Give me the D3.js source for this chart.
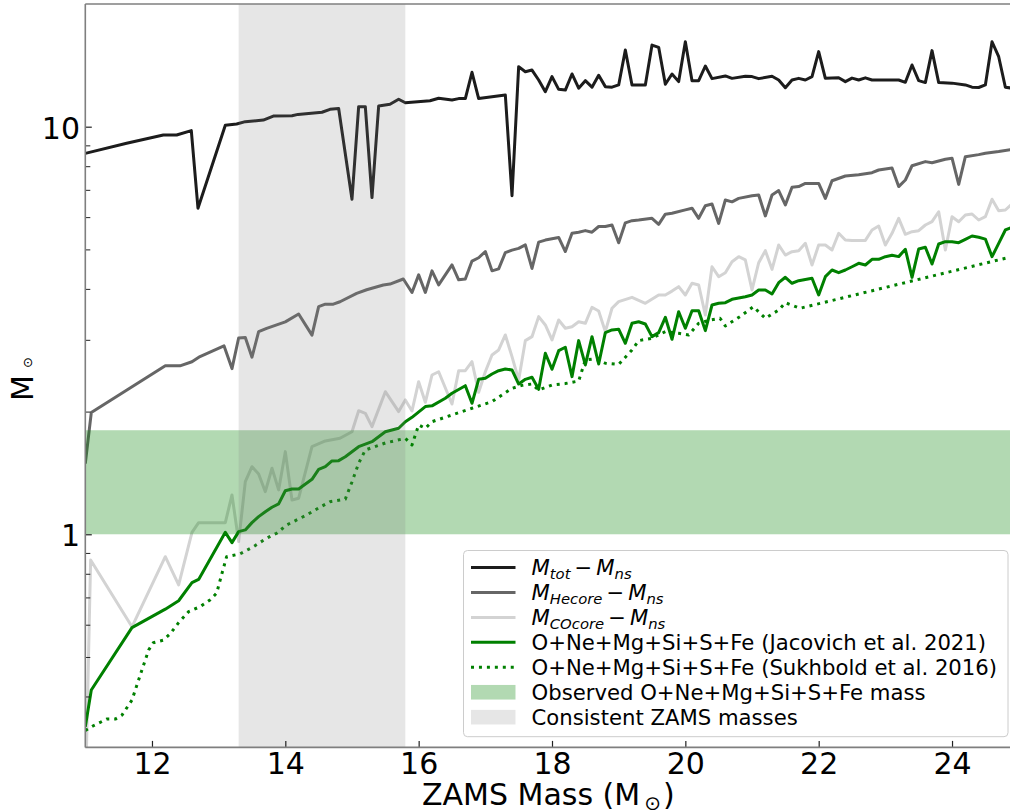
<!DOCTYPE html>
<html>
<head>
<meta charset="utf-8">
<script src="https://cdn.jsdelivr.net/npm/d3@7"></script>
<style>
  html, body { margin: 0; padding: 0; background: #fff; }
  svg { display: block; font-family: "DejaVu Sans", sans-serif; }
</style>
</head>
<body>
<svg id="chart" width="1010" height="810"></svg>
<script>
// ---------------- DATA ----------------
const xTicks = [12, 14, 16, 18, 20, 22, 24];
const yTicksMajor = [1, 10];
const yTicksMinor = [0.4, 0.5, 0.6, 0.7, 0.8, 0.9, 2, 3, 4, 5, 6, 7, 8, 9];
const xDomain = [11, 25];
const yDomain = [0.3, 20];
const observedRange = [1.0, 1.8];     // observed O+Ne+Mg+Si+S+Fe mass band
const zamsRange = [13.3, 15.8];       // consistent ZAMS masses band

// [ZAMS mass, value]
const mTot = [[11.0,8.60],[11.62,9.11],[12.17,9.54],[12.37,9.54],[12.59,9.78],[12.69,6.31],[13.1,10.08],[13.27,10.15],[13.4,10.29],[13.67,10.38],[13.82,10.62],[14.1,10.64],[14.19,10.72],[14.55,10.85],[14.67,11.03],[14.8,11.08],[15.0,6.64],[15.1,11.20],[15.2,11.20],[15.3,6.70],[15.4,11.24],[15.57,11.35],[15.7,11.68],[15.8,11.45],[16.17,11.58],[16.3,11.74],[16.5,11.63],[16.6,11.72],[16.7,11.72],[16.8,13.60],[16.9,11.72],[17.3,11.96],[17.4,6.77],[17.5,14.04],[17.6,13.64],[17.7,13.77],[17.8,13.02],[17.9,12.19],[18.0,13.27],[18.1,12.35],[18.2,12.30],[18.3,13.47],[18.4,12.43],[18.5,12.97],[18.6,12.50],[18.7,13.37],[18.8,12.54],[18.9,12.50],[19.0,12.66],[19.1,15.43],[19.2,12.66],[19.4,12.66],[19.5,15.86],[19.6,15.66],[19.7,12.71],[19.8,13.47],[19.9,12.90],[20.0,16.16],[20.1,12.97],[20.2,12.97],[20.3,14.09],[20.4,13.12],[20.6,13.32],[20.7,13.14],[20.9,13.30],[21.0,13.27],[21.1,13.12],[21.3,13.30],[21.4,13.02],[21.5,12.46],[21.6,13.02],[21.7,13.14],[21.8,13.02],[21.9,13.27],[22.0,15.28],[22.1,13.14],[22.3,13.18],[22.4,12.90],[22.5,13.16],[22.6,13.02],[22.7,13.18],[22.8,13.02],[23.2,13.02],[23.3,12.85],[23.4,14.17],[23.5,12.97],[23.6,12.83],[23.7,15.37],[23.8,12.83],[24.0,12.79],[24.2,12.66],[24.3,12.50],[24.4,12.48],[24.5,12.66],[24.6,16.16],[24.7,14.85],[24.8,12.50],[24.9,12.43]];

const mHecore = [[11.0,1.49],[11.09,1.99],[12.2,2.59],[12.42,2.59],[12.6,2.65],[12.72,2.73],[13.08,2.90],[13.2,2.55],[13.3,3.03],[13.4,3.04],[13.5,2.72],[13.6,3.14],[13.72,3.20],[14.0,3.32],[14.2,3.47],[14.4,3.08],[14.5,3.62],[14.6,3.67],[14.72,3.67],[14.82,3.72],[15.07,3.90],[15.22,3.98],[15.47,4.09],[15.57,4.11],[15.77,4.23],[15.9,3.92],[16.0,4.33],[16.1,3.92],[16.2,4.43],[16.3,4.09],[16.5,4.58],[16.6,4.21],[16.7,4.23],[16.8,4.68],[16.9,4.77],[17.0,4.94],[17.1,4.43],[17.2,4.48],[17.3,4.91],[17.4,4.98],[17.5,5.03],[17.6,5.13],[17.7,4.49],[17.8,5.21],[17.9,5.27],[18.1,5.35],[18.2,4.94],[18.3,5.48],[18.4,5.51],[18.5,5.56],[18.6,5.51],[18.7,5.69],[18.8,5.69],[18.9,5.74],[19.0,5.19],[19.1,5.81],[19.2,5.88],[19.3,5.90],[19.5,5.96],[19.6,5.76],[19.7,6.10],[19.8,6.13],[20.0,6.25],[20.1,6.31],[20.2,5.96],[20.3,6.40],[20.4,6.46],[20.5,5.79],[20.6,6.61],[20.7,6.54],[20.8,6.67],[21.0,6.77],[21.1,6.80],[21.2,6.04],[21.3,6.80],[21.4,6.97],[21.5,6.43],[21.6,7.10],[21.7,7.13],[21.8,7.26],[22.0,7.26],[22.1,6.67],[22.2,7.37],[22.4,7.57],[22.6,7.62],[22.8,7.71],[22.9,7.83],[23.1,7.92],[23.2,7.13],[23.3,7.40],[23.4,8.02],[23.6,8.21],[23.7,8.16],[23.9,8.32],[24.0,8.37],[24.1,7.22],[24.2,8.44],[24.4,8.54],[24.5,8.61],[24.7,8.69],[24.9,8.80]];

const mCOcore = [[11.0,0.22],[11.08,0.865],[11.7,0.593],[12.2,0.881],[12.4,0.751],[12.6,1.011],[12.7,1.068],[13.1,1.068],[13.2,1.249],[13.3,0.96],[13.4,1.346],[13.5,1.465],[13.6,1.406],[13.7,1.272],[13.8,1.452],[13.9,1.285],[14.0,1.595],[14.1,1.214],[14.2,1.226],[14.4,1.640],[14.6,1.694],[14.82,1.720],[15.0,1.785],[15.1,2.010],[15.2,1.981],[15.3,1.837],[15.5,2.238],[15.7,2.000],[15.8,2.136],[15.9,2.007],[16.0,2.368],[16.1,2.108],[16.2,2.459],[16.3,2.505],[16.5,2.087],[16.6,2.520],[16.7,2.520],[16.8,2.651],[16.9,2.230],[17.0,2.505],[17.1,2.754],[17.2,2.833],[17.3,3.083],[17.4,2.728],[17.5,2.391],[17.6,2.986],[17.7,3.054],[17.8,3.420],[17.9,3.263],[18.0,2.998],[18.1,3.356],[18.2,3.202],[18.3,3.230],[18.4,3.323],[18.5,3.293],[18.6,3.605],[18.7,3.530],[18.8,3.142],[18.9,3.585],[19.0,3.721],[19.2,3.814],[19.4,3.687],[19.6,3.865],[19.7,3.865],[19.8,3.95],[19.9,4.051],[20.0,3.865],[20.1,4.129],[20.2,4.090],[20.3,3.452],[20.4,4.533],[20.5,4.286],[20.6,4.384],[20.7,4.664],[20.8,4.798],[20.9,4.710],[21.0,3.976],[21.1,4.637],[21.2,4.964],[21.3,4.467],[21.4,5.126],[21.5,4.843],[21.6,4.935],[21.7,4.964],[21.8,5.175],[21.9,4.578],[22.0,5.126],[22.1,5.126],[22.2,4.983],[22.3,5.476],[22.4,5.272],[22.5,5.26],[22.7,5.26],[22.8,5.580],[22.9,5.707],[23.0,5.126],[23.1,5.476],[23.2,5.960],[23.3,5.445],[23.4,5.525],[23.5,5.557],[23.6,5.739],[23.7,5.847],[23.8,6.186],[23.9,4.983],[24.0,6.014],[24.1,5.847],[24.2,6.073],[24.3,6.107],[24.4,5.903],[24.5,6.014],[24.6,6.637],[24.7,6.222],[24.8,6.246],[24.9,6.462]];

const oxyJacovich = [[11.0,0.337],[11.09,0.415],[11.7,0.590],[12.2,0.655],[12.4,0.687],[12.6,0.761],[12.7,0.775],[13.1,1.011],[13.2,0.954],[13.3,1.015],[13.4,1.025],[13.5,1.068],[13.6,1.105],[13.7,1.136],[13.8,1.165],[13.9,1.187],[14.0,1.279],[14.1,1.292],[14.2,1.292],[14.4,1.364],[14.5,1.443],[14.6,1.465],[14.7,1.513],[14.8,1.516],[14.9,1.550],[15.1,1.640],[15.3,1.687],[15.5,1.785],[15.7,1.820],[15.8,1.889],[15.9,1.936],[16.1,2.057],[16.2,2.066],[16.4,2.157],[16.5,2.218],[16.7,2.315],[16.8,2.096],[16.9,2.400],[17.0,2.414],[17.1,2.473],[17.2,2.520],[17.3,2.544],[17.4,2.53],[17.5,2.337],[17.6,2.40],[17.7,2.428],[17.8,2.268],[17.9,2.780],[18.0,2.540],[18.1,2.821],[18.2,2.876],[18.3,2.437],[18.4,2.986],[18.5,2.603],[18.6,3.054],[18.7,2.617],[18.8,3.124],[18.9,3.172],[19.0,3.185],[19.1,2.942],[19.2,3.293],[19.3,3.323],[19.4,3.28],[19.5,3.054],[19.6,3.124],[19.7,3.407],[19.8,3.009],[19.9,3.516],[20.0,3.202],[20.1,3.536],[20.2,3.536],[20.3,3.160],[20.4,3.652],[20.5,3.687],[20.6,3.70],[20.7,3.771],[20.9,3.827],[21.0,3.865],[21.1,3.976],[21.2,3.976],[21.3,3.886],[21.4,4.143],[21.5,4.271],[21.6,4.129],[21.7,4.190],[21.9,4.247],[22.0,3.865],[22.1,4.286],[22.2,4.450],[22.3,4.384],[22.4,4.45],[22.5,4.533],[22.6,4.622],[22.7,4.578],[22.8,4.728],[22.9,4.728],[23.0,4.798],[23.1,4.836],[23.2,4.80],[23.3,5.003],[23.4,4.271],[23.5,5.01],[23.6,5.060],[23.7,4.603],[23.8,5.155],[23.9,5.223],[24.0,5.223],[24.1,5.193],[24.2,5.293],[24.3,5.393],[24.4,5.354],[24.5,5.30],[24.6,4.798],[24.7,5.175],[24.8,5.580],[24.9,5.665]];

const oxySukhbold = [[11.0,0.330],[11.12,0.339],[11.32,0.352],[11.45,0.352],[11.55,0.360],[11.7,0.392],[11.85,0.465],[11.95,0.520],[12.02,0.542],[12.17,0.550],[12.27,0.569],[12.4,0.607],[12.55,0.646],[12.72,0.664],[12.87,0.690],[12.97,0.717],[13.05,0.802],[13.12,0.881],[13.32,0.895],[13.52,0.932],[13.72,0.978],[13.87,1.006],[14.02,1.054],[14.32,1.115],[14.52,1.165],[14.67,1.202],[14.9,1.22],[15.0,1.344],[15.1,1.493],[15.2,1.610],[15.5,1.675],[15.8,1.720],[15.9,1.656],[16.0,1.854],[16.1,1.820],[16.2,1.889],[16.5,1.962],[16.8,2.038],[17.1,2.116],[17.4,2.281],[17.55,2.32],[17.7,2.337],[17.8,2.259],[18.0,2.324],[18.2,2.343],[18.4,2.377],[18.5,2.677],[18.6,2.69],[18.7,2.677],[18.8,2.628],[19.0,2.61],[19.2,2.833],[19.3,2.986],[19.5,3.026],[19.7,3.142],[19.9,3.113],[20.05,3.083],[20.2,3.293],[20.37,3.356],[20.52,3.388],[20.6,3.245],[20.82,3.420],[21.02,3.617],[21.2,3.388],[21.4,3.550],[21.5,3.700],[21.72,3.585],[24.9,4.80]];

// ---------------- LAYOUT ----------------
const svg = d3.select("#chart");
const plot = { left: 85.3, right: 1018.7, top: 4, bottom: 747.4 };
const x = d3.scaleLinear().domain(xDomain).range([plot.left, plot.right]);
const y = d3.scaleLog().domain(yDomain).range([plot.bottom, plot.top]);

svg.append("rect").attr("width", 1010).attr("height", 810).attr("fill", "#fff");

svg.append("defs").append("clipPath").attr("id", "clip")
  .append("rect")
  .attr("x", plot.left).attr("y", plot.top)
  .attr("width", plot.right - plot.left).attr("height", plot.bottom - plot.top);

const gPlot = svg.append("g").attr("clip-path", "url(#clip)");

const line = d3.line().x(d => x(d[0])).y(d => y(d[1]));

const series = [
  { data: mTot, color: "#1c1c1c", dash: null },
  { data: mHecore, color: "#666666", dash: null },
  { data: mCOcore, color: "#d3d3d3", dash: null },
  { data: oxyJacovich, color: "#008000", dash: null },
  { data: oxySukhbold, color: "#008000", dash: "3,4.95" }
];

series.forEach(s => {
  gPlot.append("path")
    .datum(s.data)
    .attr("d", line)
    .attr("fill", "none")
    .attr("stroke", s.color)
    .attr("stroke-width", 3)
    .attr("stroke-linejoin", "round")
    .attr("stroke-dasharray", s.dash);
});

// bands drawn on top with transparency
gPlot.append("rect")
  .attr("x", x(xDomain[0])).attr("width", x(xDomain[1]) - x(xDomain[0]))
  .attr("y", y(observedRange[1])).attr("height", y(observedRange[0]) - y(observedRange[1]))
  .attr("fill", "#008000").attr("fill-opacity", 0.3);

gPlot.append("rect")
  .attr("x", x(zamsRange[0])).attr("width", x(zamsRange[1]) - x(zamsRange[0]))
  .attr("y", plot.top).attr("height", plot.bottom - plot.top)
  .attr("fill", "#808080").attr("fill-opacity", 0.2);

// ---------------- AXES ----------------
const tickColor = "#222";
const xAxis = d3.axisBottom(x).tickValues(xTicks).tickFormat(d3.format("d"))
  .tickSizeInner(-6.5).tickSizeOuter(0).tickPadding(5.3);
const gx = svg.append("g").attr("transform", `translate(0,${plot.bottom})`).call(xAxis);
gx.select(".domain").remove();
gx.selectAll(".tick line").attr("stroke", tickColor).attr("stroke-width", 1.2);
gx.selectAll(".tick text").attr("font-size", 30).attr("fill", "#000")
  .attr("font-family", "DejaVu Sans");

const yAxis = d3.axisLeft(y).tickValues(yTicksMajor).tickFormat(d3.format("d"))
  .tickSizeInner(-6.5).tickSizeOuter(0).tickPadding(5.3);
const gy = svg.append("g").attr("transform", `translate(${plot.left},0)`).call(yAxis);
gy.select(".domain").remove();
gy.selectAll(".tick line").attr("stroke", tickColor).attr("stroke-width", 1.2);
gy.selectAll(".tick text").attr("font-size", 30).attr("fill", "#000")
  .attr("dy", "0.39em").attr("font-family", "DejaVu Sans");

const yAxisMinor = d3.axisLeft(y).tickValues(yTicksMinor).tickFormat("")
  .tickSizeInner(-5).tickSizeOuter(0);
const gym = svg.append("g").attr("transform", `translate(${plot.left},0)`).call(yAxisMinor);
gym.select(".domain").remove();
gym.selectAll(".tick line").attr("stroke", tickColor).attr("stroke-width", 1);

// spines
const spineColor = "#7f7f7f";
svg.append("line").attr("x1", plot.left).attr("x2", plot.left)
  .attr("y1", plot.top).attr("y2", plot.bottom)
  .attr("stroke", spineColor).attr("stroke-width", 1.6);
svg.append("line").attr("x1", plot.left).attr("x2", plot.right)
  .attr("y1", plot.bottom).attr("y2", plot.bottom)
  .attr("stroke", spineColor).attr("stroke-width", 1.6);
svg.append("line").attr("x1", plot.left).attr("x2", plot.right)
  .attr("y1", plot.top).attr("y2", plot.top)
  .attr("stroke", spineColor).attr("stroke-width", 1.6);
svg.append("line").attr("x1", plot.right).attr("x2", plot.right)
  .attr("y1", plot.top).attr("y2", plot.bottom)
  .attr("stroke", spineColor).attr("stroke-width", 1.6);

// axis labels
const xl = svg.append("text").attr("x", 422).attr("y", 805)
  .attr("font-size", 30).attr("fill", "#000");
xl.append("tspan").text("ZAMS Mass (M");
xl.append("tspan").attr("font-size", 20).attr("dx", 4).attr("dy", 5).text("\u2299");
xl.append("tspan").attr("dx", 2).attr("dy", -5).text(")");

const yl = svg.append("text").attr("transform", "translate(33.3,401) rotate(-90)")
  .attr("font-size", 30).attr("fill", "#000");
yl.append("tspan").text("M");
yl.append("tspan").attr("font-size", 13).attr("dx", 7).attr("dy", -1.5).text("\u2299");

// ---------------- LEGEND ----------------
const leg = svg.append("g");
leg.append("rect").attr("x", 463.5).attr("y", 550.5).attr("width", 544.5).attr("height", 186.2)
  .attr("rx", 4).attr("fill", "#fff").attr("fill-opacity", 0.8)
  .attr("stroke", "#cccccc").attr("stroke-width", 1);

const rowY = i => 567.5 + i * 24.95;
const hx0 = 471, hx1 = 515.5, tx = 531.5, fs = 21.2, fsSub = 14.8, subDy = 3.4;

function mathLabel(g, i, sub) {
  const t = g.append("text").attr("x", tx).attr("y", rowY(i) + 7.7)
    .attr("font-size", fs).attr("fill", "#000");
  t.append("tspan").attr("font-style", "italic").text("M");
  t.append("tspan").attr("font-style", "italic").attr("font-size", fsSub).attr("dy", subDy).text(sub);
  t.append("tspan").attr("dy", -subDy).attr("dx", 4).text("\u2212");
  t.append("tspan").attr("font-style", "italic").attr("dx", 4).text("M");
  t.append("tspan").attr("font-style", "italic").attr("font-size", fsSub).attr("dy", subDy).text("ns");
}

series.forEach((s, i) => {
  leg.append("line").attr("x1", hx0).attr("x2", hx1).attr("y1", rowY(i)).attr("y2", rowY(i))
    .attr("stroke", s.color).attr("stroke-width", 3).attr("stroke-dasharray", s.dash);
});
mathLabel(leg, 0, "tot");
mathLabel(leg, 1, "Hecore");
mathLabel(leg, 2, "COcore");
const plainLabels = [
  "O+Ne+Mg+Si+S+Fe (Jacovich et al. 2021)",
  "O+Ne+Mg+Si+S+Fe (Sukhbold et al. 2016)",
  "Observed O+Ne+Mg+Si+S+Fe mass",
  "Consistent ZAMS masses"
];
plainLabels.forEach((lab, k) => {
  leg.append("text").attr("x", tx).attr("y", rowY(k + 3) + 7.7)
    .attr("font-size", fs).attr("fill", "#000").text(lab);
});
leg.append("rect").attr("x", hx0).attr("width", hx1 - hx0).attr("y", rowY(5) - 7.3).attr("height", 14.6)
  .attr("fill", "#008000").attr("fill-opacity", 0.3);
leg.append("rect").attr("x", hx0).attr("width", hx1 - hx0).attr("y", rowY(6) - 7.3).attr("height", 14.6)
  .attr("fill", "#808080").attr("fill-opacity", 0.2);
</script>
</body>
</html>
